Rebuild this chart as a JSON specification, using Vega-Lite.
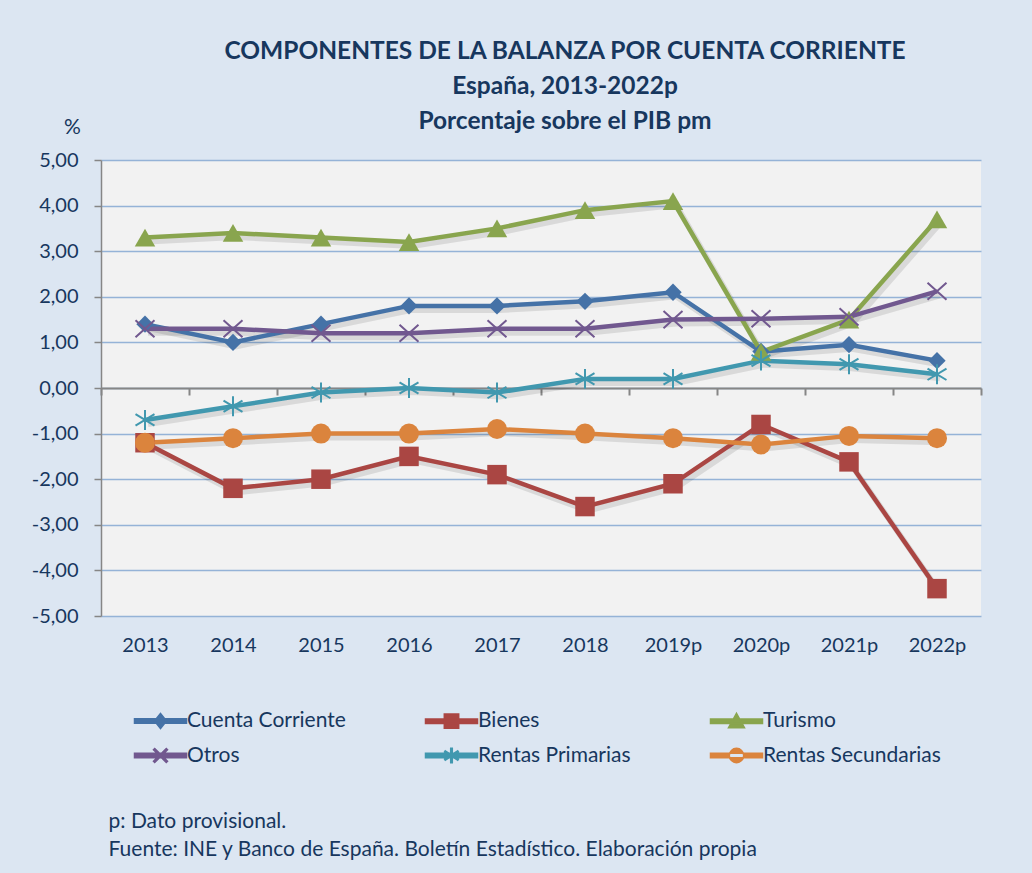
{
  "$schema": "https://vega.github.io/schema/vega-lite/v6.json",
  "width": 880,
  "height": 456,
  "autosize": {"type": "none"},
  "padding": {"left": 101, "top": 160, "right": 51, "bottom": 257},
  "background": "#DCE6F2",
  "config": {
    "font": "Lato",
    "view": {"fill": "#F2F2F2", "stroke": null}
  },
  "title": {
    "text": ["COMPONENTES DE LA BALANZA POR CUENTA CORRIENTE", "España, 2013-2022p", "Porcentaje sobre el PIB pm"],
    "anchor": "middle",
    "dx": 24,
    "dy": 48,
    "fontSize": 24.5,
    "fontWeight": "bold",
    "color": "#17375E",
    "lineHeight": 35,
    "offset": 30
  },
  "data": {
    "values": [
      {"year": "2013", "series": "Cuenta Corriente", "value": 1.4},
      {"year": "2014", "series": "Cuenta Corriente", "value": 1.0},
      {"year": "2015", "series": "Cuenta Corriente", "value": 1.4},
      {"year": "2016", "series": "Cuenta Corriente", "value": 1.8},
      {"year": "2017", "series": "Cuenta Corriente", "value": 1.8},
      {"year": "2018", "series": "Cuenta Corriente", "value": 1.9},
      {"year": "2019p", "series": "Cuenta Corriente", "value": 2.1},
      {"year": "2020p", "series": "Cuenta Corriente", "value": 0.8},
      {"year": "2021p", "series": "Cuenta Corriente", "value": 0.95},
      {"year": "2022p", "series": "Cuenta Corriente", "value": 0.6},
      {"year": "2013", "series": "Bienes", "value": -1.2},
      {"year": "2014", "series": "Bienes", "value": -2.2},
      {"year": "2015", "series": "Bienes", "value": -2.0},
      {"year": "2016", "series": "Bienes", "value": -1.5},
      {"year": "2017", "series": "Bienes", "value": -1.9},
      {"year": "2018", "series": "Bienes", "value": -2.6},
      {"year": "2019p", "series": "Bienes", "value": -2.1},
      {"year": "2020p", "series": "Bienes", "value": -0.8},
      {"year": "2021p", "series": "Bienes", "value": -1.62},
      {"year": "2022p", "series": "Bienes", "value": -4.4},
      {"year": "2013", "series": "Turismo", "value": 3.3},
      {"year": "2014", "series": "Turismo", "value": 3.4},
      {"year": "2015", "series": "Turismo", "value": 3.3},
      {"year": "2016", "series": "Turismo", "value": 3.2},
      {"year": "2017", "series": "Turismo", "value": 3.5},
      {"year": "2018", "series": "Turismo", "value": 3.9},
      {"year": "2019p", "series": "Turismo", "value": 4.1},
      {"year": "2020p", "series": "Turismo", "value": 0.79},
      {"year": "2021p", "series": "Turismo", "value": 1.5},
      {"year": "2022p", "series": "Turismo", "value": 3.7},
      {"year": "2013", "series": "Otros", "value": 1.3},
      {"year": "2014", "series": "Otros", "value": 1.3},
      {"year": "2015", "series": "Otros", "value": 1.2},
      {"year": "2016", "series": "Otros", "value": 1.2},
      {"year": "2017", "series": "Otros", "value": 1.3},
      {"year": "2018", "series": "Otros", "value": 1.3},
      {"year": "2019p", "series": "Otros", "value": 1.5},
      {"year": "2020p", "series": "Otros", "value": 1.52},
      {"year": "2021p", "series": "Otros", "value": 1.56},
      {"year": "2022p", "series": "Otros", "value": 2.12},
      {"year": "2013", "series": "Rentas Primarias", "value": -0.7},
      {"year": "2014", "series": "Rentas Primarias", "value": -0.4},
      {"year": "2015", "series": "Rentas Primarias", "value": -0.1},
      {"year": "2016", "series": "Rentas Primarias", "value": 0.0},
      {"year": "2017", "series": "Rentas Primarias", "value": -0.1},
      {"year": "2018", "series": "Rentas Primarias", "value": 0.2},
      {"year": "2019p", "series": "Rentas Primarias", "value": 0.2},
      {"year": "2020p", "series": "Rentas Primarias", "value": 0.6},
      {"year": "2021p", "series": "Rentas Primarias", "value": 0.52},
      {"year": "2022p", "series": "Rentas Primarias", "value": 0.3},
      {"year": "2013", "series": "Rentas Secundarias", "value": -1.2},
      {"year": "2014", "series": "Rentas Secundarias", "value": -1.1},
      {"year": "2015", "series": "Rentas Secundarias", "value": -1.0},
      {"year": "2016", "series": "Rentas Secundarias", "value": -1.0},
      {"year": "2017", "series": "Rentas Secundarias", "value": -0.9},
      {"year": "2018", "series": "Rentas Secundarias", "value": -1.0},
      {"year": "2019p", "series": "Rentas Secundarias", "value": -1.1},
      {"year": "2020p", "series": "Rentas Secundarias", "value": -1.24},
      {"year": "2021p", "series": "Rentas Secundarias", "value": -1.05},
      {"year": "2022p", "series": "Rentas Secundarias", "value": -1.1}
    ]
  },
  "encoding": {
    "x": {
      "field": "year",
      "type": "ordinal",
      "sort": null,
      "scale": {"type": "band", "paddingInner": 0, "paddingOuter": 0},
      "axis": {
        "orient": "bottom",
        "offset": -228,
        "domain": true,
        "domainColor": "#868686",
        "domainWidth": 2,
        "ticks": true,
        "tickBand": "extent",
        "tickColor": "#868686",
        "tickWidth": 2,
        "tickSize": 7,
        "grid": false,
        "labelAngle": 0,
        "labelFontSize": 20,
        "labelColor": "#17375E",
        "labelPadding": 240,
        "title": ["p: Dato provisional.", "Fuente: INE y Banco de España. Boletín Estadístico. Elaboración propia"],
        "titleAnchor": "start",
        "titleAlign": "left",
        "titleBaseline": "alphabetic",
        "titleX": 7,
        "titleY": 439,
        "titleFontSize": 21,
        "titleFontWeight": "normal",
        "titleColor": "#17375E",
        "titleLineHeight": 28
      }
    },
    "y": {
      "field": "value",
      "type": "quantitative",
      "scale": {"domain": [-5, 5], "nice": false, "zero": false},
      "axis": {
        "values": [-5, -4, -3, -2, -1, 0, 1, 2, 3, 4, 5],
        "labelExpr": "replace(replace(format(datum.value, '.2f'), '.', ','), '\u2212', '-')",
        "labelFontSize": 20,
        "labelColor": "#17375E",
        "labelPadding": 16,
        "tickColor": "#868686",
        "tickSize": 7,
        "tickWidth": 1.5,
        "domainColor": "#868686",
        "domainWidth": 1.5,
        "gridColor": "#95B3D7",
        "gridWidth": 1.5,
        "title": "%",
        "titleAngle": 0,
        "titleX": -29,
        "titleY": -33,
        "titleAlign": "center",
        "titleBaseline": "middle",
        "titleFontSize": 21,
        "titleFontWeight": "normal",
        "titleColor": "#17375E"
      }
    },
    "color": {
      "field": "series",
      "type": "nominal",
      "scale": {
        "domain": ["Cuenta Corriente", "Bienes", "Turismo", "Otros", "Rentas Primarias", "Rentas Secundarias"],
        "range": ["#4572A7", "#AA4643", "#89A54E", "#71588F", "#4198AF", "#DB843D"]
      },
      "legend": {
        "title": null,
        "orient": "none",
        "legendX": 31,
        "legendY": 550,
        "direction": "horizontal",
        "columns": 3,
        "columnPadding": 76,
        "rowPadding": 12,
        "symbolSize": 256,
        "symbolOffset": 18,
        "labelOffset": 16,
        "labelFontSize": 21,
        "labelColor": "#17375E",
        "labelLimit": 300
      }
    }
  },
  "layer": [
    {
      "mark": {"type": "line", "strokeWidth": 6, "xOffset": 3, "yOffset": 4, "opacity": 0.1},
      "encoding": {
        "color": {"value": "#000000"},
        "detail": {"field": "series"}
      }
    },
    {
      "mark": {"type": "line", "strokeWidth": 4.5}
    },
    {
      "transform": [{"filter": "datum.series === 'Cuenta Corriente'"}],
      "mark": {"type": "point", "shape": "diamond", "filled": true, "opacity": 1, "size": 300}
    },
    {
      "transform": [{"filter": "datum.series === 'Bienes'"}],
      "mark": {"type": "point", "shape": "square", "filled": true, "opacity": 1, "size": 380}
    },
    {
      "transform": [{"filter": "datum.series === 'Turismo'"}],
      "mark": {"type": "point", "shape": "triangle-up", "filled": true, "opacity": 1, "size": 420}
    },
    {
      "transform": [{"filter": "datum.series === 'Otros'"}],
      "mark": {"type": "point", "shape": "M-1,-0.9L1,0.9M-1,0.9L1,-0.9", "filled": false, "opacity": 1, "size": 360, "strokeWidth": 2}
    },
    {
      "transform": [{"filter": "datum.series === 'Rentas Primarias'"}],
      "mark": {"type": "point", "shape": "M-1,-0.6L1,0.6M-1,0.6L1,-0.6M0,-1.05L0,1.05", "filled": false, "opacity": 1, "size": 360, "strokeWidth": 2}
    },
    {
      "transform": [{"filter": "datum.series === 'Rentas Secundarias'"}],
      "mark": {"type": "point", "shape": "circle", "filled": true, "opacity": 1, "size": 400}
    },
    {
      "transform": [{"filter": "datum.value > 99"}],
      "mark": {"type": "point", "filled": true, "opacity": 1, "size": 256},
      "encoding": {
        "shape": {
          "field": "series",
          "type": "nominal",
          "scale": {
            "domain": ["Cuenta Corriente", "Bienes", "Turismo", "Otros", "Rentas Primarias", "Rentas Secundarias"],
            "range": [
              "M-3.25,-0.28H3.25V0.28H-3.25Z M0,-0.95L0.75,0L0,0.95L-0.75,0Z",
              "M-3.25,-0.28H3.25V0.28H-3.25Z M-0.9,-0.9H0.9V0.9H-0.9Z",
              "M-3.25,-0.28H3.25V0.28H-3.25Z M0,-1L1,0.8H-1Z",
              "M-3.25,-0.28H3.25V0.28H-3.25Z M-0.72,-0.88L0.88,0.72L0.72,0.88L-0.88,-0.72Z M0.72,-0.88L0.88,-0.72L-0.72,0.88L-0.88,0.72Z",
              "M-3.25,-0.28H3.25V0.28H-3.25Z M-0.78,-0.58L0.86,0.46L0.78,0.58L-0.86,-0.46Z M0.78,-0.58L0.86,-0.46L-0.78,0.58L-0.86,0.46Z M-0.1,-0.9H0.1V0.9H-0.1Z",
              "M-3.25,-0.28H3.25V0.28H-3.25Z M-0.9,0A0.9,0.9 0 1,0 0.9,0A0.9,0.9 0 1,0 -0.9,0Z"
            ]
          },
          "legend": {
            "title": null,
            "orient": "none",
            "legendX": 31,
            "legendY": 550,
            "direction": "horizontal",
            "columns": 3,
            "columnPadding": 76,
            "rowPadding": 12,
            "symbolSize": 256,
            "symbolOffset": 18,
            "labelOffset": 16,
            "labelFontSize": 21,
            "labelColor": "#17375E",
            "labelLimit": 300
          }
        }
      }
    }
  ]
}
